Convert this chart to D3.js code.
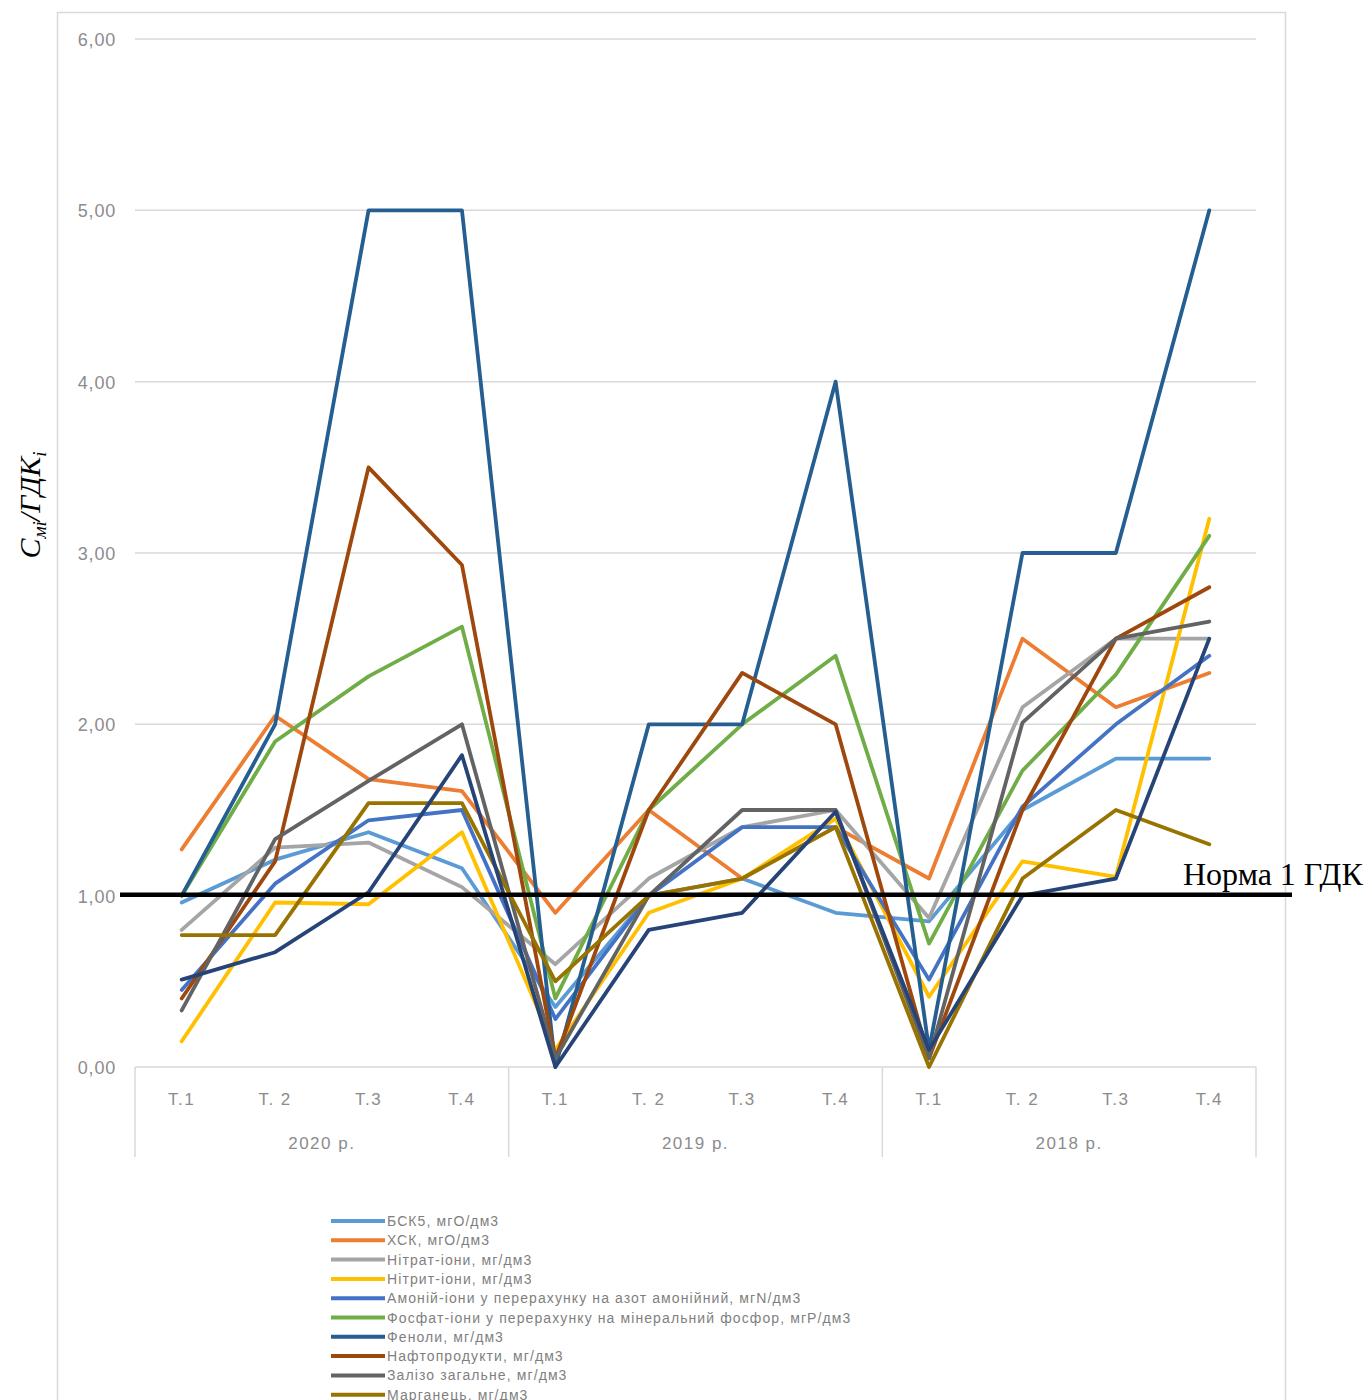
<!DOCTYPE html>
<html><head><meta charset="utf-8">
<script src="https://cdn.jsdelivr.net/npm/d3@7"></script>
<style>body{margin:0;background:#fff}svg{display:block}</style>
</head><body>
<svg id="chart" width="1370" height="1400"></svg>
<script>
const quarters = ["Т.1","Т. 2","Т.3","Т.4","Т.1","Т. 2","Т.3","Т.4","Т.1","Т. 2","Т.3","Т.4"];
const years = ["2020 р.","2019 р.","2018 р."];
const yTicks = [0,1,2,3,4,5,6];
const seriesNames = [
  "БСК5, мгО/дм3",
  "ХСК, мгО/дм3",
  "Нітрат-іони, мг/дм3",
  "Нітрит-іони, мг/дм3",
  "Амоній-іони у перерахунку на азот амонійний, мгN/дм3",
  "Фосфат-іони у перерахунку на мінеральний фосфор, мгР/дм3",
  "Феноли, мг/дм3",
  "Нафтопродукти, мг/дм3",
  "Залізо загальне, мг/дм3",
  "Марганець, мг/дм3",
  null
];
const seriesColors = ["#5B9BD5","#ED7D31","#A5A5A5","#FFC000","#4472C4","#70AD47","#255E91","#9E480E","#636363","#997300","#264478"];
const bsk5      = [0.96,1.21,1.37,1.16, 0.35,1.00,1.10,0.90, 0.85,1.50,1.80,1.80];
const xsk       = [1.27,2.05,1.68,1.61, 0.90,1.50,1.10,1.40, 1.10,2.50,2.10,2.30];
const nitrate   = [0.80,1.28,1.31,1.05, 0.60,1.10,1.40,1.50, 0.87,2.10,2.50,2.50];
const nitrite   = [0.15,0.96,0.95,1.37, 0.10,0.90,1.10,1.45, 0.41,1.20,1.11,3.20];
const ammonium  = [0.45,1.07,1.44,1.50, 0.28,1.00,1.40,1.40, 0.51,1.52,2.00,2.40];
const phosphate = [1.00,1.90,2.28,2.57, 0.40,1.50,2.00,2.40, 0.72,1.73,2.29,3.10];
const phenols   = [1.00,2.00,5.00,5.00, 0.00,2.00,2.00,4.00, 0.10,3.00,3.00,5.00];
const oil       = [0.40,1.20,3.50,2.93, 0.05,1.50,2.30,2.00, 0.05,1.50,2.50,2.80];
const iron      = [0.33,1.33,1.67,2.00, 0.05,1.00,1.50,1.50, 0.05,2.01,2.50,2.60];
const manganese = [0.77,0.77,1.54,1.54, 0.50,1.00,1.10,1.40, 0.00,1.10,1.50,1.30];
const series11  = [0.51,0.67,1.02,1.82, 0.00,0.80,0.90,1.49, 0.10,1.00,1.10,2.50];
const seriesValues = [bsk5,xsk,nitrate,nitrite,ammonium,phosphate,phenols,oil,iron,manganese,series11];
const normValue = 1;

const svg = d3.select("#chart");
const L = 135, R = 1256, T = 39, B = 1067;
const sans = "Liberation Sans, Arial, sans-serif";
const serif = "Liberation Serif, Times New Roman, serif";

// outer frame
svg.append("rect").attr("x",57.5).attr("y",12.5).attr("width",1228).attr("height",1400)
  .attr("fill","none").attr("stroke","#D9D9D9").attr("stroke-width",1.5);

const x = d3.scaleBand().domain(d3.range(quarters.length)).range([L,R]);
const y = d3.scaleLinear().domain([0,6]).range([B,T]);

// gridlines
svg.append("g").selectAll("line").data(yTicks.filter(d=>d>0)).join("line")
  .attr("x1",L).attr("x2",R).attr("y1",d=>y(d)).attr("y2",d=>y(d))
  .attr("stroke","#D9D9D9").attr("stroke-width",1.5);

// y axis labels
const fmt = d => d3.format(".2f")(d).replace(".",",");
svg.append("g").selectAll("text").data(yTicks).join("text")
  .attr("x",116).attr("y",d=>y(d)+7).attr("text-anchor","end")
  .attr("font-family",sans).attr("font-size",18).attr("letter-spacing",0.8)
  .attr("fill","#8C8C8C").text(fmt);

// category axis
const ax = svg.append("g");
ax.append("line").attr("x1",L).attr("x2",R).attr("y1",B).attr("y2",B).attr("stroke","#D9D9D9").attr("stroke-width",1.5);
[0,4,8,12].forEach(i=>{
  const xx = i<12 ? x(i) : R;
  ax.append("line").attr("x1",xx).attr("x2",xx).attr("y1",B).attr("y2",1157).attr("stroke","#D9D9D9").attr("stroke-width",1.5);
});
ax.selectAll("text.q").data(quarters).join("text").attr("class","q")
  .attr("x",(d,i)=>x(i)+x.bandwidth()/2).attr("y",1105).attr("text-anchor","middle")
  .attr("font-family",sans).attr("font-size",17).attr("letter-spacing",1.5)
  .attr("fill","#8C8C8C").text(d=>d);
ax.selectAll("text.yr").data(years).join("text").attr("class","yr")
  .attr("x",(d,i)=>(x(i*4)+(i*4+4<12?x(i*4+4):R))/2).attr("y",1149).attr("text-anchor","middle")
  .attr("font-family",sans).attr("font-size",17).attr("letter-spacing",1.5)
  .attr("fill","#8C8C8C").text(d=>d);

// lines
const line = d3.line().x((d,i)=>x(i)+x.bandwidth()/2).y(d=>y(d));
svg.append("g").selectAll("path").data(seriesValues).join("path")
  .attr("d",line).attr("fill","none")
  .attr("stroke",(d,i)=>seriesColors[i]).attr("stroke-width",3.8)
  .attr("stroke-linejoin","round").attr("stroke-linecap","round");

// norm line
svg.append("line").attr("x1",120).attr("x2",1292).attr("y1",y(normValue)-1).attr("y2",y(normValue)-1)
  .attr("stroke","#000").attr("stroke-width",4.5);
svg.append("text").attr("x",1183).attr("y",885)
  .attr("font-family",serif).attr("font-size",32)
  .attr("fill","#000").text("Норма 1 ГДК");

// y axis title
const yt = svg.append("text").attr("transform","translate(40,505) rotate(-90)")
  .attr("text-anchor","middle").attr("font-family",serif)
  .attr("font-size",30).attr("font-style","italic").attr("fill","#000");
yt.append("tspan").text("C");
yt.append("tspan").attr("font-size",19).attr("dy",6).text("мі");
yt.append("tspan").attr("dy",-6).text("/ГДК");
yt.append("tspan").attr("font-size",19).attr("dy",6).text("i");

// legend
const leg = svg.append("g");
const items = seriesNames.map((n,i)=>({n,i})).filter(d=>d.n);
items.forEach((d,k)=>{
  const yy = 1221 + k*19.3;
  leg.append("line").attr("x1",331).attr("x2",385).attr("y1",yy).attr("y2",yy)
    .attr("stroke",seriesColors[d.i]).attr("stroke-width",4);
  leg.append("text").attr("x",387).attr("y",yy+5)
    .attr("font-family",sans).attr("font-size",14).attr("letter-spacing",1.1)
    .attr("fill","#7F7F7F").text(d.n);
});
</script>
</body></html>
